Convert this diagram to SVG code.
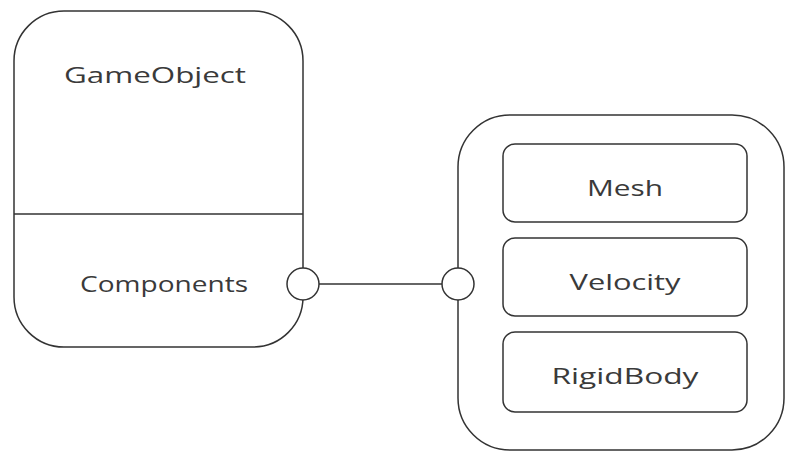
<svg xmlns="http://www.w3.org/2000/svg" width="786" height="452" viewBox="0 0 786 452">
<style>
.s{fill:#fff;stroke:#333;stroke-width:1.5}
.t{font-family:"Open Sans","Noto Sans",sans-serif;font-size:21px;fill:#3a3a3a;text-anchor:middle}
</style>
<rect width="786" height="452" fill="#fff"/>
<g id="gameobject">
<rect class="s" x="14" y="11" width="289" height="336" rx="50"/>
<line x1="14" y1="214" x2="303" y2="214" stroke="#333" stroke-width="1.5"/>
<text class="t" x="155" y="83" textLength="182" lengthAdjust="spacingAndGlyphs">GameObject</text>
<text class="t" x="164" y="292" textLength="168" lengthAdjust="spacingAndGlyphs">Components</text>
</g>
<g id="container">
<rect class="s" x="458" y="115" width="326" height="335" rx="52"/>
</g>
<g id="mesh">
<rect class="s" x="503" y="144" width="244" height="78" rx="12"/>
<text class="t" x="625" y="196" textLength="76" lengthAdjust="spacingAndGlyphs">Mesh</text>
</g>
<g id="velocity">
<rect class="s" x="503" y="238" width="244" height="78" rx="12"/>
<text class="t" x="625" y="290" textLength="111" lengthAdjust="spacingAndGlyphs">Velocity</text>
</g>
<g id="rigidbody">
<rect class="s" x="503" y="332" width="244" height="80" rx="12"/>
<text class="t" x="625" y="384" textLength="147" lengthAdjust="spacingAndGlyphs">RigidBody</text>
</g>
<g id="connectors">
<line x1="319" y1="284" x2="442" y2="284" stroke="#333" stroke-width="1.5"/>
<circle class="s" cx="303" cy="284" r="16"/>
<circle class="s" cx="458" cy="284" r="16"/>
</g>
</svg>
